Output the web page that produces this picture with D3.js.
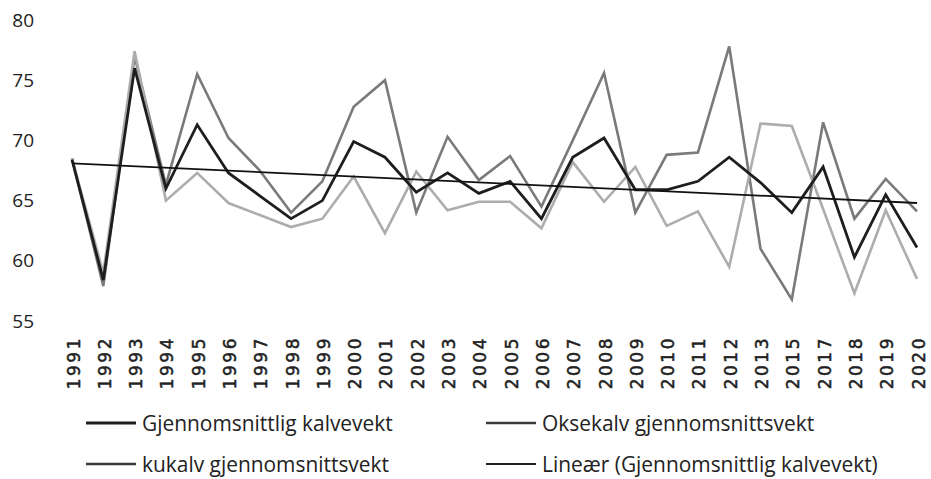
<!DOCTYPE html>
<html>
<head>
<meta charset="utf-8">
<script src="https://cdn.jsdelivr.net/npm/d3@7"></script>
<style>
body { margin: 0; background: #fff; }
svg { display: block; }
</style>
</head>
<body>
<svg id="chart" width="931" height="479"></svg>
<script>
const years = ["1991","1992","1993","1994","1995","1996","1997","1998","1999","2000","2001","2002","2003","2004","2005","2006","2007","2008","2009","2010","2011","2012","2013","2015","2017","2018","2019","2020"];
const average = [68.4,58.4,76.0,66.0,71.3,67.3,65.4,63.5,65.0,69.9,68.6,65.7,67.3,65.6,66.6,63.5,68.6,70.2,65.9,65.9,66.6,68.6,66.5,64.0,67.8,60.3,65.5,61.1];
const oksekalv = [68.5,57.9,77.0,66.3,75.5,70.2,67.5,64.0,66.6,72.8,75.0,64.0,70.3,66.7,68.7,64.5,70.0,75.6,64.0,68.8,69.0,77.8,61.0,56.8,71.5,63.5,66.8,64.1];
const kukalv = [68.5,59.0,77.4,65.0,67.3,64.8,63.8,62.8,63.5,67.0,62.3,67.4,64.2,64.9,64.9,62.7,68.2,64.9,67.8,62.9,64.1,59.5,71.4,71.2,64.3,57.3,64.2,58.5];
const trendEnds = [68.1, 64.8];
const yTicks = [55,60,65,70,75,80];
const seriesNames = ["Gjennomsnittlig kalvevekt","Oksekalv gjennomsnittsvekt","kukalv gjennomsnittsvekt","Lineær (Gjennomsnittlig kalvevekt)"];

const svg = d3.select("#chart");
const x = d3.scalePoint().domain(years).range([72, 917]);
const y = d3.scaleLinear().domain([55, 80]).range([321, 20]);

// y axis labels
const yAxis = d3.axisLeft(y).tickValues(yTicks).tickSize(0).tickPadding(0).tickFormat(d3.format("d"));
const gy = svg.append("g").attr("transform", "translate(34,0)").call(yAxis);
gy.select(".domain").remove();
gy.selectAll("text").attr("font-family", "Open Sans, sans-serif").attr("font-size", 19).attr("fill", "#222");

// x axis labels
const xAxis = d3.axisBottom(x).tickSize(0).tickPadding(0);
const gx = svg.append("g").attr("transform", "translate(1,336)").call(xAxis);
gx.select(".domain").remove();
gx.selectAll("text")
  .attr("font-family", "DejaVu Sans, sans-serif")
  .attr("font-size", 17)
  .attr("letter-spacing", "2.5px")
  .attr("fill", "#222")
  .attr("stroke", "#222")
  .attr("stroke-width", 0.5)
  .attr("text-anchor", "end")
  .attr("dy", null)
  .attr("transform", "rotate(-90)")
  .attr("x", 0)
  .attr("y", 0)
  .attr("dx", 0)
  .attr("dominant-baseline", "central");

const line = d3.line().x((d, i) => x(years[i])).y(d => y(d));

const series = [
  {name: seriesNames[1], data: oksekalv, color: "#7a7a7a", width: 2.6},
  {name: seriesNames[2], data: kukalv, color: "#adadad", width: 2.6},
  {name: seriesNames[0], data: average, color: "#1e1e1e", width: 2.8}
];
series.forEach(s => {
  svg.append("path").datum(s.data).attr("d", line)
    .attr("fill", "none").attr("stroke", s.color).attr("stroke-width", s.width)
    .attr("stroke-linejoin", "miter");
});

// linear trend line
svg.append("line")
  .attr("x1", x(years[0])).attr("y1", y(trendEnds[0]))
  .attr("x2", x(years[years.length - 1])).attr("y2", y(trendEnds[1]))
  .attr("stroke", "#111").attr("stroke-width", 1.8);

// legend
const legendItems = [
  {name: seriesNames[0], color: "#1e1e1e", width: 3, lx: 86, ly: 423},
  {name: seriesNames[1], color: "#3a3a3a", width: 2.5, lx: 486, ly: 423},
  {name: seriesNames[2], color: "#3a3a3a", width: 2.5, lx: 86, ly: 464},
  {name: seriesNames[3], color: "#222", width: 2, lx: 486, ly: 464}
];
const lg = svg.append("g");
legendItems.forEach(it => {
  lg.append("line").attr("x1", it.lx).attr("x2", it.lx + 50).attr("y1", it.ly).attr("y2", it.ly)
    .attr("stroke", it.color).attr("stroke-width", it.width);
  const t = lg.append("text").attr("x", it.lx + 56).attr("y", it.ly).attr("dy", "0.35em")
    .attr("font-family", "Open Sans, sans-serif")
    .attr("font-size", 22).attr("fill", "#222").text(it.name);
  const w = t.node().getComputedTextLength();
  t.attr("textLength", w * 0.95).attr("lengthAdjust", "spacingAndGlyphs");
});
</script>
</body>
</html>
